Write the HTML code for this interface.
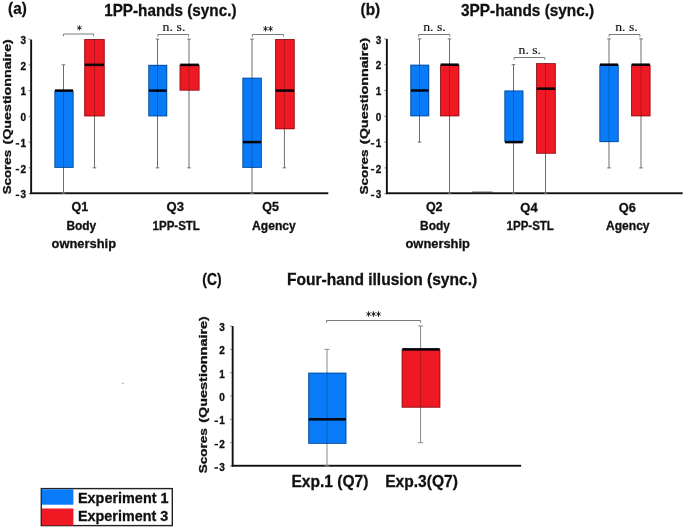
<!DOCTYPE html><html><head><meta charset="utf-8"><style>html,body{margin:0;padding:0;background:#fff;}svg{display:block;will-change:transform;}</style></head><body>
<svg width="685" height="529" viewBox="0 0 685 529">
<rect width="685" height="529" fill="#fff"/>
<rect x="30.2" y="39.5" width="1.9" height="154.6" fill="#111"/>
<rect x="30.2" y="192.3" width="298.1" height="1.9" fill="#111"/>
<text x="26.1" y="198.29999999999998" text-anchor="end" font-family="&quot;Liberation Sans&quot;, sans-serif" font-weight="bold" font-size="10" fill="#111" stroke="#111" stroke-width="0.3">3</text>
<rect x="15.70" y="194.60" width="3.5" height="1.5" fill="#111"/>
<line x1="28.6" y1="193.6" x2="30.2" y2="193.6" stroke="#555" stroke-width="0.8"/>
<text x="26.1" y="172.54999999999998" text-anchor="end" font-family="&quot;Liberation Sans&quot;, sans-serif" font-weight="bold" font-size="10" fill="#111" stroke="#111" stroke-width="0.3">2</text>
<rect x="15.70" y="168.85" width="3.5" height="1.5" fill="#111"/>
<line x1="28.6" y1="167.85" x2="30.2" y2="167.85" stroke="#555" stroke-width="0.8"/>
<text x="26.1" y="146.79999999999998" text-anchor="end" font-family="&quot;Liberation Sans&quot;, sans-serif" font-weight="bold" font-size="10" fill="#111" stroke="#111" stroke-width="0.3">1</text>
<rect x="15.70" y="143.10" width="3.5" height="1.5" fill="#111"/>
<line x1="28.6" y1="142.1" x2="30.2" y2="142.1" stroke="#555" stroke-width="0.8"/>
<text x="26.1" y="121.05" text-anchor="end" font-family="&quot;Liberation Sans&quot;, sans-serif" font-weight="bold" font-size="10" fill="#111" stroke="#111" stroke-width="0.3">0</text>
<line x1="28.6" y1="116.35" x2="30.2" y2="116.35" stroke="#555" stroke-width="0.8"/>
<text x="26.1" y="95.3" text-anchor="end" font-family="&quot;Liberation Sans&quot;, sans-serif" font-weight="bold" font-size="10" fill="#111" stroke="#111" stroke-width="0.3">1</text>
<line x1="28.6" y1="90.6" x2="30.2" y2="90.6" stroke="#555" stroke-width="0.8"/>
<text x="26.1" y="69.55" text-anchor="end" font-family="&quot;Liberation Sans&quot;, sans-serif" font-weight="bold" font-size="10" fill="#111" stroke="#111" stroke-width="0.3">2</text>
<line x1="28.6" y1="64.85" x2="30.2" y2="64.85" stroke="#555" stroke-width="0.8"/>
<text x="26.1" y="43.8" text-anchor="end" font-family="&quot;Liberation Sans&quot;, sans-serif" font-weight="bold" font-size="10" fill="#111" stroke="#111" stroke-width="0.3">3</text>
<line x1="28.6" y1="39.099999999999994" x2="30.2" y2="39.099999999999994" stroke="#555" stroke-width="0.8"/>
<text x="0.0" y="0" text-anchor="start" font-family="&quot;Liberation Sans&quot;, sans-serif" font-weight="bold" font-size="10.5" fill="#111" textLength="44.37" lengthAdjust="spacingAndGlyphs" transform="translate(11.0,194.3) rotate(-90)" stroke="#111" stroke-width="0.3">Scores</text>
<text x="0.0" y="0" text-anchor="start" font-family="&quot;Liberation Sans&quot;, sans-serif" font-weight="bold" font-size="10.5" fill="#111" textLength="105.31" lengthAdjust="spacingAndGlyphs" transform="translate(11.0,144.51) rotate(-90)" stroke="#111" stroke-width="0.3">(Questionnaire)</text>
<text x="8.1" y="13.6" text-anchor="start" font-family="&quot;Liberation Sans&quot;, sans-serif" font-weight="bold" font-size="17" fill="#111" textLength="18.63" lengthAdjust="spacingAndGlyphs" stroke="#111" stroke-width="0.3">(a)</text>
<text x="104.2" y="15.6" text-anchor="start" font-family="&quot;Liberation Sans&quot;, sans-serif" font-weight="bold" font-size="16.2" fill="#111" textLength="132.29" lengthAdjust="spacingAndGlyphs" stroke="#111" stroke-width="0.3">1PP-hands (sync.)</text>
<line x1="63.5" y1="64.85" x2="63.5" y2="193.6" stroke="#6e6e6e" stroke-width="1"/>
<rect x="54.4" y="90.6" width="19.199999999999996" height="77.25" fill="#0a7bf8"/>
<rect x="54.85" y="91.05" width="18.30" height="76.35" fill="none" stroke="#000" stroke-opacity="0.38" stroke-width="0.9"/>
<line x1="63.5" y1="90.6" x2="63.5" y2="167.85" stroke="#000" stroke-opacity="0.22" stroke-width="1"/>
<rect x="55.00" y="89.35" width="18.00" height="2.5" fill="#030308"/>
<line x1="61.7" y1="64.85" x2="65.3" y2="64.85" stroke="#6e6e6e" stroke-width="1"/>
<line x1="61.7" y1="193.6" x2="65.3" y2="193.6" stroke="#6e6e6e" stroke-width="1"/>
<line x1="94.5" y1="39.099999999999994" x2="94.5" y2="167.85" stroke="#6e6e6e" stroke-width="1"/>
<rect x="84.2" y="39.099999999999994" width="20.5" height="77.25" fill="#ee1923"/>
<rect x="84.65" y="39.55" width="19.60" height="76.35" fill="none" stroke="#000" stroke-opacity="0.38" stroke-width="0.9"/>
<line x1="94.5" y1="39.099999999999994" x2="94.5" y2="116.35" stroke="#000" stroke-opacity="0.22" stroke-width="1"/>
<rect x="84.80" y="63.60" width="19.30" height="2.5" fill="#030308"/>
<line x1="92.7" y1="167.85" x2="96.3" y2="167.85" stroke="#6e6e6e" stroke-width="1"/>
<line x1="157.5" y1="39.099999999999994" x2="157.5" y2="167.85" stroke="#6e6e6e" stroke-width="1"/>
<rect x="148.3" y="64.85" width="18.899999999999977" height="51.5" fill="#0a7bf8"/>
<rect x="148.75" y="65.30" width="18.00" height="50.60" fill="none" stroke="#000" stroke-opacity="0.38" stroke-width="0.9"/>
<line x1="157.5" y1="64.85" x2="157.5" y2="116.35" stroke="#000" stroke-opacity="0.22" stroke-width="1"/>
<rect x="148.90" y="89.35" width="17.70" height="2.5" fill="#030308"/>
<line x1="155.7" y1="39.099999999999994" x2="159.3" y2="39.099999999999994" stroke="#6e6e6e" stroke-width="1"/>
<line x1="155.7" y1="167.85" x2="159.3" y2="167.85" stroke="#6e6e6e" stroke-width="1"/>
<line x1="189.0" y1="39.099999999999994" x2="189.0" y2="167.85" stroke="#6e6e6e" stroke-width="1"/>
<rect x="179.6" y="64.85" width="19.900000000000006" height="25.75" fill="#ee1923"/>
<rect x="180.05" y="65.30" width="19.00" height="24.85" fill="none" stroke="#000" stroke-opacity="0.38" stroke-width="0.9"/>
<line x1="189.0" y1="64.85" x2="189.0" y2="90.6" stroke="#000" stroke-opacity="0.22" stroke-width="1"/>
<rect x="180.20" y="63.60" width="18.70" height="2.5" fill="#030308"/>
<line x1="187.2" y1="39.099999999999994" x2="190.8" y2="39.099999999999994" stroke="#6e6e6e" stroke-width="1"/>
<line x1="187.2" y1="167.85" x2="190.8" y2="167.85" stroke="#6e6e6e" stroke-width="1"/>
<line x1="252.0" y1="39.099999999999994" x2="252.0" y2="193.6" stroke="#6e6e6e" stroke-width="1"/>
<rect x="242.4" y="77.725" width="19.400000000000006" height="90.125" fill="#0a7bf8"/>
<rect x="242.85" y="78.17" width="18.50" height="89.22" fill="none" stroke="#000" stroke-opacity="0.38" stroke-width="0.9"/>
<line x1="252.0" y1="77.725" x2="252.0" y2="167.85" stroke="#000" stroke-opacity="0.22" stroke-width="1"/>
<rect x="243.00" y="140.85" width="18.20" height="2.5" fill="#030308"/>
<line x1="250.2" y1="39.099999999999994" x2="253.8" y2="39.099999999999994" stroke="#6e6e6e" stroke-width="1"/>
<line x1="250.2" y1="193.6" x2="253.8" y2="193.6" stroke="#6e6e6e" stroke-width="1"/>
<line x1="284.4" y1="39.099999999999994" x2="284.4" y2="167.85" stroke="#6e6e6e" stroke-width="1"/>
<rect x="275.1" y="39.099999999999994" width="19.599999999999966" height="90.125" fill="#ee1923"/>
<rect x="275.55" y="39.55" width="18.70" height="89.22" fill="none" stroke="#000" stroke-opacity="0.38" stroke-width="0.9"/>
<line x1="284.4" y1="39.099999999999994" x2="284.4" y2="129.225" stroke="#000" stroke-opacity="0.22" stroke-width="1"/>
<rect x="275.70" y="89.35" width="18.40" height="2.5" fill="#030308"/>
<line x1="282.59999999999997" y1="167.85" x2="286.2" y2="167.85" stroke="#6e6e6e" stroke-width="1"/>
<path d="M63.4,36.2 V34.0 H93.6 V36.2" fill="none" stroke="#7a7a7a" stroke-width="1"/>
<path d="M79.35,25.35V30.35M77.21,26.60L81.49,29.10M77.21,29.10L81.49,26.60" stroke="#1a1a1a" stroke-width="0.95" fill="none"/>
<path d="M157.9,36.7 V34.5 H188.6 V36.7" fill="none" stroke="#7a7a7a" stroke-width="1"/>
<text x="162.6" y="31.4" text-anchor="start" font-family="&quot;Liberation Serif&quot;, serif" font-weight="normal" font-size="13.4" fill="#111" textLength="22.79" lengthAdjust="spacingAndGlyphs" stroke="#111" stroke-width="0.15">n. s.</text>
<path d="M252.3,36.7 V34.5 H283.6 V36.7" fill="none" stroke="#7a7a7a" stroke-width="1"/>
<path d="M265.52,26.05V31.45M263.40,27.40L267.65,30.10M263.40,30.10L267.65,27.40" stroke="#1a1a1a" stroke-width="0.95" fill="none"/>
<path d="M270.58,26.05V31.45M268.45,27.40L272.70,30.10M268.45,30.10L272.70,27.40" stroke="#1a1a1a" stroke-width="0.95" fill="none"/>
<text x="71.6" y="211.3" text-anchor="start" font-family="&quot;Liberation Sans&quot;, sans-serif" font-weight="bold" font-size="12.3" fill="#111" textLength="16.69" lengthAdjust="spacingAndGlyphs" stroke="#111" stroke-width="0.3">Q1</text>
<text x="66.4" y="229.6" text-anchor="start" font-family="&quot;Liberation Sans&quot;, sans-serif" font-weight="bold" font-size="12.3" fill="#111" textLength="29.8" lengthAdjust="spacingAndGlyphs" stroke="#111" stroke-width="0.3">Body</text>
<text x="51.6" y="247.6" text-anchor="start" font-family="&quot;Liberation Sans&quot;, sans-serif" font-weight="bold" font-size="12.3" fill="#111" textLength="64.41" lengthAdjust="spacingAndGlyphs" stroke="#111" stroke-width="0.3">ownership</text>
<text x="166.5" y="211.3" text-anchor="start" font-family="&quot;Liberation Sans&quot;, sans-serif" font-weight="bold" font-size="12.3" fill="#111" textLength="17.39" lengthAdjust="spacingAndGlyphs" stroke="#111" stroke-width="0.3">Q3</text>
<text x="152.6" y="229.6" text-anchor="start" font-family="&quot;Liberation Sans&quot;, sans-serif" font-weight="bold" font-size="12.3" fill="#111" textLength="47.32" lengthAdjust="spacingAndGlyphs" stroke="#111" stroke-width="0.3">1PP-STL</text>
<text x="262.2" y="211.3" text-anchor="start" font-family="&quot;Liberation Sans&quot;, sans-serif" font-weight="bold" font-size="12.3" fill="#111" textLength="16.69" lengthAdjust="spacingAndGlyphs" stroke="#111" stroke-width="0.3">Q5</text>
<text x="252.1" y="229.6" text-anchor="start" font-family="&quot;Liberation Sans&quot;, sans-serif" font-weight="bold" font-size="12.3" fill="#111" textLength="43.63" lengthAdjust="spacingAndGlyphs" stroke="#111" stroke-width="0.3">Agency</text>
<rect x="385.9" y="38.9" width="1.9" height="155.2" fill="#111"/>
<rect x="386" y="192.3" width="296.7" height="1.9" fill="#111"/>
<text x="381.2" y="198.39999999999998" text-anchor="end" font-family="&quot;Liberation Sans&quot;, sans-serif" font-weight="bold" font-size="10" fill="#111" stroke="#111" stroke-width="0.3">3</text>
<rect x="370.80" y="194.70" width="3.5" height="1.5" fill="#111"/>
<line x1="384.4" y1="193.7" x2="386" y2="193.7" stroke="#555" stroke-width="0.8"/>
<text x="381.2" y="172.6" text-anchor="end" font-family="&quot;Liberation Sans&quot;, sans-serif" font-weight="bold" font-size="10" fill="#111" stroke="#111" stroke-width="0.3">2</text>
<rect x="370.80" y="168.90" width="3.5" height="1.5" fill="#111"/>
<line x1="384.4" y1="167.9" x2="386" y2="167.9" stroke="#555" stroke-width="0.8"/>
<text x="381.2" y="146.79999999999998" text-anchor="end" font-family="&quot;Liberation Sans&quot;, sans-serif" font-weight="bold" font-size="10" fill="#111" stroke="#111" stroke-width="0.3">1</text>
<rect x="370.80" y="143.10" width="3.5" height="1.5" fill="#111"/>
<line x1="384.4" y1="142.1" x2="386" y2="142.1" stroke="#555" stroke-width="0.8"/>
<text x="381.2" y="121.0" text-anchor="end" font-family="&quot;Liberation Sans&quot;, sans-serif" font-weight="bold" font-size="10" fill="#111" stroke="#111" stroke-width="0.3">0</text>
<line x1="384.4" y1="116.3" x2="386" y2="116.3" stroke="#555" stroke-width="0.8"/>
<text x="381.2" y="95.2" text-anchor="end" font-family="&quot;Liberation Sans&quot;, sans-serif" font-weight="bold" font-size="10" fill="#111" stroke="#111" stroke-width="0.3">1</text>
<line x1="384.4" y1="90.5" x2="386" y2="90.5" stroke="#555" stroke-width="0.8"/>
<text x="381.2" y="69.39999999999999" text-anchor="end" font-family="&quot;Liberation Sans&quot;, sans-serif" font-weight="bold" font-size="10" fill="#111" stroke="#111" stroke-width="0.3">2</text>
<line x1="384.4" y1="64.69999999999999" x2="386" y2="64.69999999999999" stroke="#555" stroke-width="0.8"/>
<text x="381.2" y="43.599999999999994" text-anchor="end" font-family="&quot;Liberation Sans&quot;, sans-serif" font-weight="bold" font-size="10" fill="#111" stroke="#111" stroke-width="0.3">3</text>
<line x1="384.4" y1="38.89999999999999" x2="386" y2="38.89999999999999" stroke="#555" stroke-width="0.8"/>
<text x="0.0" y="0" text-anchor="start" font-family="&quot;Liberation Sans&quot;, sans-serif" font-weight="bold" font-size="10.5" fill="#111" textLength="44.79" lengthAdjust="spacingAndGlyphs" transform="translate(367.6,194.4) rotate(-90)" stroke="#111" stroke-width="0.3">Scores</text>
<text x="0.0" y="0" text-anchor="start" font-family="&quot;Liberation Sans&quot;, sans-serif" font-weight="bold" font-size="10.5" fill="#111" textLength="106.33" lengthAdjust="spacingAndGlyphs" transform="translate(367.6,144.13) rotate(-90)" stroke="#111" stroke-width="0.3">(Questionnaire)</text>
<text x="360.6" y="15.2" text-anchor="start" font-family="&quot;Liberation Sans&quot;, sans-serif" font-weight="bold" font-size="17" fill="#111" textLength="19.53" lengthAdjust="spacingAndGlyphs" stroke="#111" stroke-width="0.3">(b)</text>
<text x="461.0" y="15.9" text-anchor="start" font-family="&quot;Liberation Sans&quot;, sans-serif" font-weight="bold" font-size="16.2" fill="#111" textLength="133.19" lengthAdjust="spacingAndGlyphs" stroke="#111" stroke-width="0.3">3PP-hands (sync.)</text>
<line x1="419.5" y1="38.89999999999999" x2="419.5" y2="142.1" stroke="#6e6e6e" stroke-width="1"/>
<rect x="410.3" y="64.69999999999999" width="18.899999999999977" height="51.60000000000001" fill="#0a7bf8"/>
<rect x="410.75" y="65.15" width="18.00" height="50.70" fill="none" stroke="#000" stroke-opacity="0.38" stroke-width="0.9"/>
<line x1="419.5" y1="64.69999999999999" x2="419.5" y2="116.3" stroke="#000" stroke-opacity="0.22" stroke-width="1"/>
<rect x="410.90" y="89.25" width="17.70" height="2.5" fill="#030308"/>
<line x1="417.7" y1="38.89999999999999" x2="421.3" y2="38.89999999999999" stroke="#6e6e6e" stroke-width="1"/>
<line x1="417.7" y1="142.1" x2="421.3" y2="142.1" stroke="#6e6e6e" stroke-width="1"/>
<line x1="449.5" y1="38.89999999999999" x2="449.5" y2="193.7" stroke="#6e6e6e" stroke-width="1"/>
<rect x="440.1" y="64.69999999999999" width="19.19999999999999" height="51.60000000000001" fill="#ee1923"/>
<rect x="440.55" y="65.15" width="18.30" height="50.70" fill="none" stroke="#000" stroke-opacity="0.38" stroke-width="0.9"/>
<line x1="449.5" y1="64.69999999999999" x2="449.5" y2="116.3" stroke="#000" stroke-opacity="0.22" stroke-width="1"/>
<rect x="440.70" y="63.45" width="18.00" height="2.5" fill="#030308"/>
<line x1="447.7" y1="38.89999999999999" x2="451.3" y2="38.89999999999999" stroke="#6e6e6e" stroke-width="1"/>
<line x1="447.7" y1="193.7" x2="451.3" y2="193.7" stroke="#6e6e6e" stroke-width="1"/>
<line x1="513.5" y1="64.69999999999999" x2="513.5" y2="193.7" stroke="#6e6e6e" stroke-width="1"/>
<rect x="504.4" y="90.5" width="19.0" height="51.599999999999994" fill="#0a7bf8"/>
<rect x="504.85" y="90.95" width="18.10" height="50.70" fill="none" stroke="#000" stroke-opacity="0.38" stroke-width="0.9"/>
<line x1="513.5" y1="90.5" x2="513.5" y2="142.1" stroke="#000" stroke-opacity="0.22" stroke-width="1"/>
<rect x="505.00" y="140.85" width="17.80" height="2.5" fill="#030308"/>
<line x1="511.7" y1="64.69999999999999" x2="515.3" y2="64.69999999999999" stroke="#6e6e6e" stroke-width="1"/>
<line x1="511.7" y1="193.7" x2="515.3" y2="193.7" stroke="#6e6e6e" stroke-width="1"/>
<line x1="545.5" y1="63.151999999999994" x2="545.5" y2="193.7" stroke="#6e6e6e" stroke-width="1"/>
<rect x="536.1" y="63.151999999999994" width="19.699999999999932" height="90.55799999999999" fill="#ee1923"/>
<rect x="536.55" y="63.60" width="18.80" height="89.66" fill="none" stroke="#000" stroke-opacity="0.38" stroke-width="0.9"/>
<line x1="545.5" y1="63.151999999999994" x2="545.5" y2="153.70999999999998" stroke="#000" stroke-opacity="0.22" stroke-width="1"/>
<rect x="536.70" y="87.44" width="18.50" height="2.5" fill="#030308"/>
<line x1="543.7" y1="193.7" x2="547.3" y2="193.7" stroke="#6e6e6e" stroke-width="1"/>
<line x1="609.0" y1="38.89999999999999" x2="609.0" y2="167.9" stroke="#6e6e6e" stroke-width="1"/>
<rect x="599.4" y="64.69999999999999" width="19.300000000000068" height="77.4" fill="#0a7bf8"/>
<rect x="599.85" y="65.15" width="18.40" height="76.50" fill="none" stroke="#000" stroke-opacity="0.38" stroke-width="0.9"/>
<line x1="609.0" y1="64.69999999999999" x2="609.0" y2="142.1" stroke="#000" stroke-opacity="0.22" stroke-width="1"/>
<rect x="600.00" y="63.45" width="18.10" height="2.5" fill="#030308"/>
<line x1="607.2" y1="38.89999999999999" x2="610.8" y2="38.89999999999999" stroke="#6e6e6e" stroke-width="1"/>
<line x1="607.2" y1="167.9" x2="610.8" y2="167.9" stroke="#6e6e6e" stroke-width="1"/>
<line x1="641.0" y1="38.89999999999999" x2="641.0" y2="167.9" stroke="#6e6e6e" stroke-width="1"/>
<rect x="631.1" y="64.69999999999999" width="19.399999999999977" height="51.60000000000001" fill="#ee1923"/>
<rect x="631.55" y="65.15" width="18.50" height="50.70" fill="none" stroke="#000" stroke-opacity="0.38" stroke-width="0.9"/>
<line x1="641.0" y1="64.69999999999999" x2="641.0" y2="116.3" stroke="#000" stroke-opacity="0.22" stroke-width="1"/>
<rect x="631.70" y="63.45" width="18.20" height="2.5" fill="#030308"/>
<line x1="639.2" y1="38.89999999999999" x2="642.8" y2="38.89999999999999" stroke="#6e6e6e" stroke-width="1"/>
<line x1="639.2" y1="167.9" x2="642.8" y2="167.9" stroke="#6e6e6e" stroke-width="1"/>
<path d="M418.6,36.7 V34.5 H449.7 V36.7" fill="none" stroke="#7a7a7a" stroke-width="1"/>
<text x="423.2" y="30.7" text-anchor="start" font-family="&quot;Liberation Serif&quot;, serif" font-weight="normal" font-size="13.4" fill="#111" textLength="22.59" lengthAdjust="spacingAndGlyphs" stroke="#111" stroke-width="0.15">n. s.</text>
<path d="M514.1,59.7 V57.5 H544.7 V59.7" fill="none" stroke="#7a7a7a" stroke-width="1"/>
<text x="518.6" y="53.8" text-anchor="start" font-family="&quot;Liberation Serif&quot;, serif" font-weight="normal" font-size="13.4" fill="#111" textLength="22.39" lengthAdjust="spacingAndGlyphs" stroke="#111" stroke-width="0.15">n. s.</text>
<path d="M609.2,36.7 V34.5 H639.9 V36.7" fill="none" stroke="#7a7a7a" stroke-width="1"/>
<text x="615.2" y="31.4" text-anchor="start" font-family="&quot;Liberation Serif&quot;, serif" font-weight="normal" font-size="13.4" fill="#111" textLength="22.49" lengthAdjust="spacingAndGlyphs" stroke="#111" stroke-width="0.15">n. s.</text>
<text x="425.9" y="211.4" text-anchor="start" font-family="&quot;Liberation Sans&quot;, sans-serif" font-weight="bold" font-size="12.3" fill="#111" textLength="16.69" lengthAdjust="spacingAndGlyphs" stroke="#111" stroke-width="0.3">Q2</text>
<text x="420.0" y="229.6" text-anchor="start" font-family="&quot;Liberation Sans&quot;, sans-serif" font-weight="bold" font-size="12.3" fill="#111" textLength="29.9" lengthAdjust="spacingAndGlyphs" stroke="#111" stroke-width="0.3">Body</text>
<text x="405.5" y="247.6" text-anchor="start" font-family="&quot;Liberation Sans&quot;, sans-serif" font-weight="bold" font-size="12.3" fill="#111" textLength="64.41" lengthAdjust="spacingAndGlyphs" stroke="#111" stroke-width="0.3">ownership</text>
<text x="520.3" y="211.5" text-anchor="start" font-family="&quot;Liberation Sans&quot;, sans-serif" font-weight="bold" font-size="12.3" fill="#111" textLength="17.39" lengthAdjust="spacingAndGlyphs" stroke="#111" stroke-width="0.3">Q4</text>
<text x="506.6" y="229.6" text-anchor="start" font-family="&quot;Liberation Sans&quot;, sans-serif" font-weight="bold" font-size="12.3" fill="#111" textLength="47.32" lengthAdjust="spacingAndGlyphs" stroke="#111" stroke-width="0.3">1PP-STL</text>
<text x="618.8" y="211.5" text-anchor="start" font-family="&quot;Liberation Sans&quot;, sans-serif" font-weight="bold" font-size="12.3" fill="#111" textLength="17.09" lengthAdjust="spacingAndGlyphs" stroke="#111" stroke-width="0.3">Q6</text>
<text x="606.0" y="229.6" text-anchor="start" font-family="&quot;Liberation Sans&quot;, sans-serif" font-weight="bold" font-size="12.3" fill="#111" textLength="43.53" lengthAdjust="spacingAndGlyphs" stroke="#111" stroke-width="0.3">Agency</text>
<rect x="231.7" y="326.0" width="1.9" height="140.7" fill="#111"/>
<rect x="231.7" y="464.8" width="289.4" height="1.9" fill="#111"/>
<text x="224.9" y="470.89" text-anchor="end" font-family="&quot;Liberation Sans&quot;, sans-serif" font-weight="bold" font-size="10" fill="#111" stroke="#111" stroke-width="0.3">3</text>
<rect x="214.50" y="467.19" width="3.5" height="1.5" fill="#111"/>
<line x1="230.1" y1="465.99" x2="231.7" y2="465.99" stroke="#555" stroke-width="0.8"/>
<text x="224.9" y="447.55999999999995" text-anchor="end" font-family="&quot;Liberation Sans&quot;, sans-serif" font-weight="bold" font-size="10" fill="#111" stroke="#111" stroke-width="0.3">2</text>
<rect x="214.50" y="443.86" width="3.5" height="1.5" fill="#111"/>
<line x1="230.1" y1="442.65999999999997" x2="231.7" y2="442.65999999999997" stroke="#555" stroke-width="0.8"/>
<text x="224.9" y="424.22999999999996" text-anchor="end" font-family="&quot;Liberation Sans&quot;, sans-serif" font-weight="bold" font-size="10" fill="#111" stroke="#111" stroke-width="0.3">1</text>
<rect x="214.50" y="420.53" width="3.5" height="1.5" fill="#111"/>
<line x1="230.1" y1="419.33" x2="231.7" y2="419.33" stroke="#555" stroke-width="0.8"/>
<text x="224.9" y="400.9" text-anchor="end" font-family="&quot;Liberation Sans&quot;, sans-serif" font-weight="bold" font-size="10" fill="#111" stroke="#111" stroke-width="0.3">0</text>
<line x1="230.1" y1="396.0" x2="231.7" y2="396.0" stroke="#555" stroke-width="0.8"/>
<text x="224.9" y="377.57" text-anchor="end" font-family="&quot;Liberation Sans&quot;, sans-serif" font-weight="bold" font-size="10" fill="#111" stroke="#111" stroke-width="0.3">1</text>
<line x1="230.1" y1="372.67" x2="231.7" y2="372.67" stroke="#555" stroke-width="0.8"/>
<text x="224.9" y="354.24" text-anchor="end" font-family="&quot;Liberation Sans&quot;, sans-serif" font-weight="bold" font-size="10" fill="#111" stroke="#111" stroke-width="0.3">2</text>
<line x1="230.1" y1="349.34000000000003" x2="231.7" y2="349.34000000000003" stroke="#555" stroke-width="0.8"/>
<text x="224.9" y="330.90999999999997" text-anchor="end" font-family="&quot;Liberation Sans&quot;, sans-serif" font-weight="bold" font-size="10" fill="#111" stroke="#111" stroke-width="0.3">3</text>
<line x1="230.1" y1="326.01" x2="231.7" y2="326.01" stroke="#555" stroke-width="0.8"/>
<text x="0.0" y="0" text-anchor="start" font-family="&quot;Liberation Sans&quot;, sans-serif" font-weight="bold" font-size="10.5" fill="#111" textLength="44.97" lengthAdjust="spacingAndGlyphs" transform="translate(207.2,473.3) rotate(-90)" stroke="#111" stroke-width="0.3">Scores</text>
<text x="0.0" y="0" text-anchor="start" font-family="&quot;Liberation Sans&quot;, sans-serif" font-weight="bold" font-size="10.5" fill="#111" textLength="106.74" lengthAdjust="spacingAndGlyphs" transform="translate(207.2,422.84) rotate(-90)" stroke="#111" stroke-width="0.3">(Questionnaire)</text>
<text x="202.3" y="284.6" text-anchor="start" font-family="&quot;Liberation Sans&quot;, sans-serif" font-weight="bold" font-size="17" fill="#111" textLength="19.28" lengthAdjust="spacingAndGlyphs" stroke="#111" stroke-width="0.3">(C)</text>
<text x="287.0" y="284.8" text-anchor="start" font-family="&quot;Liberation Sans&quot;, sans-serif" font-weight="bold" font-size="16.2" fill="#111" textLength="190.14" lengthAdjust="spacingAndGlyphs" stroke="#111" stroke-width="0.3">Four-hand illusion (sync.)</text>
<line x1="327.0" y1="349.34000000000003" x2="327.0" y2="465.99" stroke="#8a8a8a" stroke-width="1"/>
<rect x="308.2" y="372.67" width="38.19999999999999" height="71.1565" fill="#0a7bf8"/>
<rect x="308.65" y="373.12" width="37.30" height="70.26" fill="none" stroke="#000" stroke-opacity="0.38" stroke-width="0.9"/>
<line x1="327.0" y1="372.67" x2="327.0" y2="443.8265" stroke="#000" stroke-opacity="0.22" stroke-width="1"/>
<rect x="308.80" y="418.08" width="37.00" height="2.5" fill="#030308"/>
<line x1="324.5" y1="349.34000000000003" x2="329.5" y2="349.34000000000003" stroke="#8a8a8a" stroke-width="1"/>
<line x1="324.5" y1="465.99" x2="329.5" y2="465.99" stroke="#8a8a8a" stroke-width="1"/>
<line x1="420.6" y1="326.01" x2="420.6" y2="442.65999999999997" stroke="#8a8a8a" stroke-width="1"/>
<rect x="401.7" y="349.34000000000003" width="38.60000000000002" height="58.32499999999999" fill="#ee1923"/>
<rect x="402.15" y="349.79" width="37.70" height="57.42" fill="none" stroke="#000" stroke-opacity="0.38" stroke-width="0.9"/>
<line x1="420.6" y1="349.34000000000003" x2="420.6" y2="407.665" stroke="#000" stroke-opacity="0.22" stroke-width="1"/>
<rect x="402.30" y="348.09" width="37.40" height="2.5" fill="#030308"/>
<line x1="418.1" y1="326.01" x2="423.1" y2="326.01" stroke="#8a8a8a" stroke-width="1"/>
<line x1="418.1" y1="442.65999999999997" x2="423.1" y2="442.65999999999997" stroke="#8a8a8a" stroke-width="1"/>
<path d="M326.5,322.7 V320.5 H420.6 V322.7" fill="none" stroke="#7a7a7a" stroke-width="1"/>
<path d="M368.58,311.35V316.75M366.50,312.70L370.67,315.40M366.50,315.40L370.67,312.70" stroke="#1a1a1a" stroke-width="0.95" fill="none"/>
<path d="M373.55,311.35V316.75M371.46,312.70L375.64,315.40M371.46,315.40L375.64,312.70" stroke="#1a1a1a" stroke-width="0.95" fill="none"/>
<path d="M378.52,311.35V316.75M376.43,312.70L380.60,315.40M376.43,315.40L380.60,312.70" stroke="#1a1a1a" stroke-width="0.95" fill="none"/>
<text x="291.5" y="486.8" text-anchor="start" font-family="&quot;Liberation Sans&quot;, sans-serif" font-weight="bold" font-size="16" fill="#111" textLength="76.81" lengthAdjust="spacingAndGlyphs" stroke="#111" stroke-width="0.3">Exp.1 (Q7)</text>
<text x="385.2" y="486.8" text-anchor="start" font-family="&quot;Liberation Sans&quot;, sans-serif" font-weight="bold" font-size="16" fill="#111" textLength="72.67" lengthAdjust="spacingAndGlyphs" stroke="#111" stroke-width="0.3">Exp.3(Q7)</text>
<rect x="122" y="382.8" width="1.6" height="1" fill="#999"/>
<rect x="472" y="191.5" width="20.5" height="1" fill="#111" fill-opacity="0.6"/>
<rect x="41.3" y="488.6" width="131" height="37" fill="#fff" stroke="#222" stroke-width="1.4"/>
<rect x="41.8" y="489.3" width="31.6" height="15.4" fill="#0a7bf8"/>
<rect x="41.8" y="508.5" width="31.6" height="16.9" fill="#ee1923"/>
<text x="78.0" y="503" text-anchor="start" font-family="&quot;Liberation Sans&quot;, sans-serif" font-weight="bold" font-size="15" fill="#111" textLength="90.51" lengthAdjust="spacingAndGlyphs" stroke="#111" stroke-width="0.3">Experiment 1</text>
<text x="78.0" y="521.3" text-anchor="start" font-family="&quot;Liberation Sans&quot;, sans-serif" font-weight="bold" font-size="15" fill="#111" textLength="90.21" lengthAdjust="spacingAndGlyphs" stroke="#111" stroke-width="0.3">Experiment 3</text>
</svg></body></html>
